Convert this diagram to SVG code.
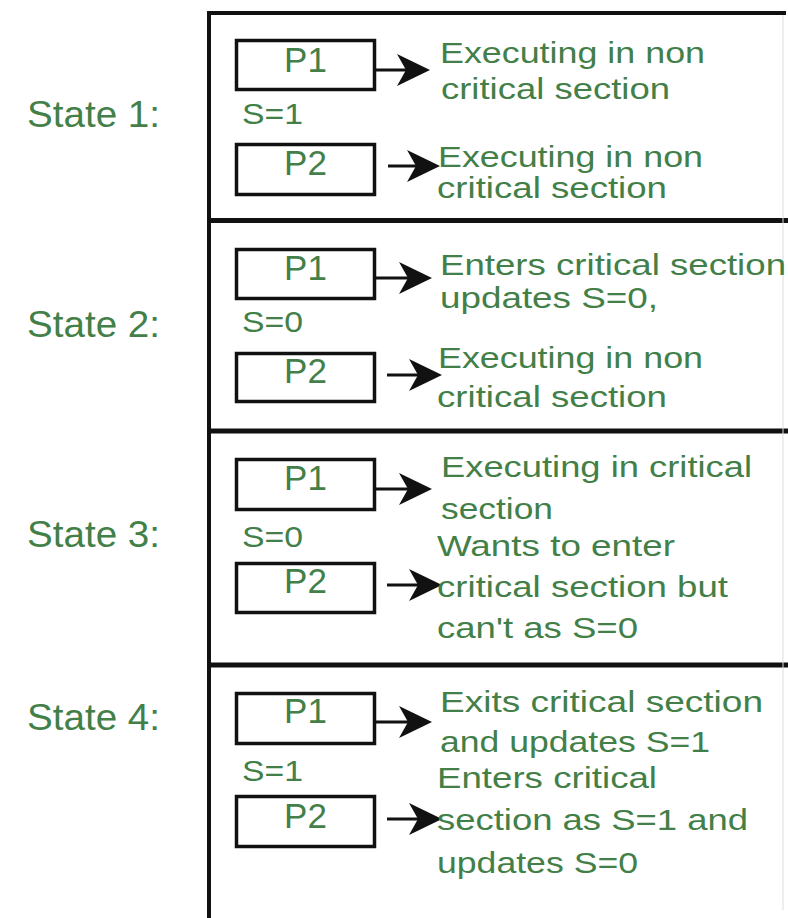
<svg xmlns="http://www.w3.org/2000/svg" width="788" height="918" viewBox="0 0 788 918">
<style>
.frame{stroke:#111;fill:none}
.box{fill:#fff;stroke:#111;stroke-width:3.5}
.conn{stroke:#111;stroke-width:3;fill:none}
text{font-family:"Liberation Sans",Arial,sans-serif;fill:#437f48}
.st{font-size:37px}
.p{font-size:35px;text-anchor:middle}
.s{font-size:30px}
.d{font-size:30px}
</style>
<defs>
<marker id="ah" markerUnits="userSpaceOnUse" markerWidth="34" markerHeight="34" refX="12" refY="16" orient="auto">
<path d="M0,0 L33,16 L0,32 L9,16 Z" fill="#111"/>
</marker>
</defs>
<rect width="788" height="918" fill="#fff"/>
<g id="frame">
<line class="frame" x1="207" y1="13" x2="786" y2="13" stroke-width="4"/>
<line class="frame" x1="209" y1="11" x2="209" y2="918" stroke-width="4"/>
<line class="frame" x1="207" y1="220.5" x2="788" y2="220.5" stroke-width="5"/>
<line class="frame" x1="207" y1="431" x2="788" y2="431" stroke-width="5"/>
<line class="frame" x1="207" y1="665" x2="788" y2="665" stroke-width="5"/>
<line x1="783" y1="15" x2="783" y2="910" stroke="#ddd" stroke-width="1"/>
</g>
<g id="labels">
<text class="st" x="27" y="127" textLength="133" lengthAdjust="spacingAndGlyphs">State 1:</text>
<text class="st" x="27" y="337" textLength="133" lengthAdjust="spacingAndGlyphs">State 2:</text>
<text class="st" x="27" y="547" textLength="133" lengthAdjust="spacingAndGlyphs">State 3:</text>
<text class="st" x="27" y="730" textLength="133" lengthAdjust="spacingAndGlyphs">State 4:</text>
<text class="s" x="242" y="124" textLength="61" lengthAdjust="spacingAndGlyphs">S=1</text>
<text class="s" x="242" y="332" textLength="61" lengthAdjust="spacingAndGlyphs">S=0</text>
<text class="s" x="242" y="547" textLength="61" lengthAdjust="spacingAndGlyphs">S=0</text>
<text class="s" x="242" y="781" textLength="61" lengthAdjust="spacingAndGlyphs">S=1</text>
</g>
<g id="s1-p1"><rect class="box" x="236.5" y="40.5" width="138" height="49"/><text class="p" x="305.5" y="72">P1</text></g>
<g id="s1-p2"><rect class="box" x="236.5" y="144.5" width="138" height="50"/><text class="p" x="305.5" y="175">P2</text></g>
<g id="s2-p1"><rect class="box" x="236.5" y="249.5" width="138" height="49"/><text class="p" x="305.5" y="280">P1</text></g>
<g id="s2-p2"><rect class="box" x="236.5" y="353.5" width="138" height="48"/><text class="p" x="305.5" y="383">P2</text></g>
<g id="s3-p1"><rect class="box" x="236.5" y="459.5" width="138" height="50"/><text class="p" x="305.5" y="490">P1</text></g>
<g id="s3-p2"><rect class="box" x="236.5" y="563.5" width="138" height="49"/><text class="p" x="305.5" y="593">P2</text></g>
<g id="s4-p1"><rect class="box" x="236.5" y="693.5" width="138" height="50"/><text class="p" x="305.5" y="723">P1</text></g>
<g id="s4-p2"><rect class="box" x="236.5" y="796.5" width="138" height="50"/><text class="p" x="305.5" y="828">P2</text></g>
<g id="connectors">
<line class="conn" x1="376" y1="70" x2="409" y2="70" marker-end="url(#ah)"/>
<line class="conn" x1="388" y1="166" x2="419" y2="166" marker-end="url(#ah)"/>
<line class="conn" x1="376" y1="278" x2="411" y2="278" marker-end="url(#ah)"/>
<line class="conn" x1="387" y1="375" x2="421" y2="375" marker-end="url(#ah)"/>
<line class="conn" x1="376" y1="489" x2="411" y2="489" marker-end="url(#ah)"/>
<line class="conn" x1="387" y1="585" x2="421" y2="585" marker-end="url(#ah)"/>
<line class="conn" x1="376" y1="722" x2="411" y2="722" marker-end="url(#ah)"/>
<line class="conn" x1="387" y1="819" x2="421" y2="819" marker-end="url(#ah)"/>
</g>
<g id="descriptions">
<text class="d" x="440" y="63" textLength="265" lengthAdjust="spacingAndGlyphs">Executing in non</text>
<text class="d" x="441" y="99" textLength="229" lengthAdjust="spacingAndGlyphs">critical section</text>
<text class="d" x="438" y="167" textLength="265" lengthAdjust="spacingAndGlyphs">Executing in non</text>
<text class="d" x="437" y="198" textLength="230" lengthAdjust="spacingAndGlyphs">critical section</text>
<text class="d" x="440" y="275" textLength="346" lengthAdjust="spacingAndGlyphs">Enters critical section</text>
<text class="d" x="440" y="308" textLength="218" lengthAdjust="spacingAndGlyphs">updates S=0,</text>
<text class="d" x="438" y="368" textLength="265" lengthAdjust="spacingAndGlyphs">Executing in non</text>
<text class="d" x="437" y="407" textLength="230" lengthAdjust="spacingAndGlyphs">critical section</text>
<text class="d" x="441" y="477" textLength="311" lengthAdjust="spacingAndGlyphs">Executing in critical</text>
<text class="d" x="441" y="519" textLength="112" lengthAdjust="spacingAndGlyphs">section</text>
<text class="d" x="437" y="556" textLength="238" lengthAdjust="spacingAndGlyphs">Wants to enter</text>
<text class="d" x="437" y="597" textLength="291" lengthAdjust="spacingAndGlyphs">critical section but</text>
<text class="d" x="437" y="638" textLength="201" lengthAdjust="spacingAndGlyphs">can't as S=0</text>
<text class="d" x="440" y="712" textLength="323" lengthAdjust="spacingAndGlyphs">Exits critical section</text>
<text class="d" x="440" y="752" textLength="270" lengthAdjust="spacingAndGlyphs">and updates S=1</text>
<text class="d" x="437" y="788" textLength="220" lengthAdjust="spacingAndGlyphs">Enters critical</text>
<text class="d" x="437" y="830" textLength="311" lengthAdjust="spacingAndGlyphs">section as S=1 and</text>
<text class="d" x="437" y="873" textLength="201" lengthAdjust="spacingAndGlyphs">updates S=0</text>
</g>
</svg>
